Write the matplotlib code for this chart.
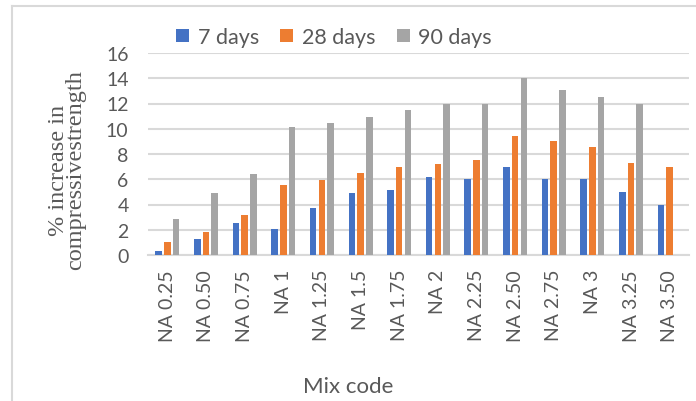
import matplotlib
matplotlib.use("Agg")
import matplotlib.pyplot as plt
from matplotlib.lines import Line2D
import numpy as np

mix_codes = ["NA 0.25", "NA 0.50", "NA 0.75", "NA 1", "NA 1.25", "NA 1.5", "NA 1.75",
             "NA 2", "NA 2.25", "NA 2.50", "NA 2.75", "NA 3", "NA 3.25", "NA 3.50"]
days_7 = [0.3, 1.25, 2.55, 2.05, 3.7, 4.95, 5.15, 6.15, 6.0, 7.0, 6.0, 6.0, 5.0, 3.95]
days_28 = [1.0, 1.85, 3.2, 5.55, 5.95, 6.5, 7.0, 7.2, 7.5, 9.4, 9.05, 8.55, 7.3, 7.0]
days_90 = [2.85, 4.95, 6.4, 10.15, 10.45, 10.95, 11.45, 12.0, 12.0, 14.05, 13.05, 12.5, 12.0, 0.0]

series = [("7 days", days_7, "#4472C4"),
          ("28 days", days_28, "#ED7D31"),
          ("90 days", days_90, "#A5A5A5")]

TXT = "#595959"
plt.rcParams["font.family"] = ["Lato", "DejaVu Sans"]

fig = plt.figure(figsize=(6.96, 4.02), dpi=100)
ax = fig.add_axes([148 / 696, 1 - 256 / 402, (689 - 148) / 696, (256 - 54) / 402])

x = np.arange(len(mix_codes))
w = 0.17
off = 0.225
for j, (lab, vals, col) in enumerate(series):
    ax.bar(x + (j - 1) * off, vals, width=w, color=col, label=lab, zorder=3)

ax.set_xlim(-0.5, len(mix_codes) - 0.5)
ax.set_ylim(0, 16)
ax.set_yticks(np.arange(0, 17, 2))
ax.yaxis.grid(True, color="#d9d9d9", lw=1.5, zorder=0)
for s in ["top", "right", "left"]:
    ax.spines[s].set_visible(False)
ax.spines["bottom"].set_color("#d9d9d9")
ax.spines["bottom"].set_linewidth(1.5)
ax.tick_params(length=0, colors=TXT, labelsize=14)
ax.tick_params(axis="x", pad=10)
ax.tick_params(axis="y", pad=14)
ax.set_xticks(x)
ax.set_xticklabels(mix_codes, rotation=90)

fig.text(67 / 696, 1 - 170 / 402, "% increase in\ncompressivestrength", rotation=90,
         ha="center", va="center", family="Liberation Serif", fontsize=17.5,
         color=TXT, linespacing=0.8)
fig.text(348 / 696, 1 - 387 / 402, "Mix code", ha="center", va="center",
         fontsize=16, color=TXT)

ax.legend(loc="center", bbox_to_anchor=(334 / 696, 1 - 38 / 402),
          bbox_transform=fig.transFigure, ncol=3, frameon=False, fontsize=15.5,
          labelcolor=TXT, handlelength=0.6, handleheight=0.6, handletextpad=0.4,
          columnspacing=1.0)

# chart-area border (top and left edges visible)
fig.add_artist(Line2D([12 / 696, 12 / 696], [0, 1 - 7 / 402], transform=fig.transFigure,
                      color="#d9d9d9", lw=1.5))
fig.add_artist(Line2D([12 / 696, 1], [1 - 7 / 402, 1 - 7 / 402], transform=fig.transFigure,
                      color="#d9d9d9", lw=1.5))

fig.savefig("out.png", dpi=100)
